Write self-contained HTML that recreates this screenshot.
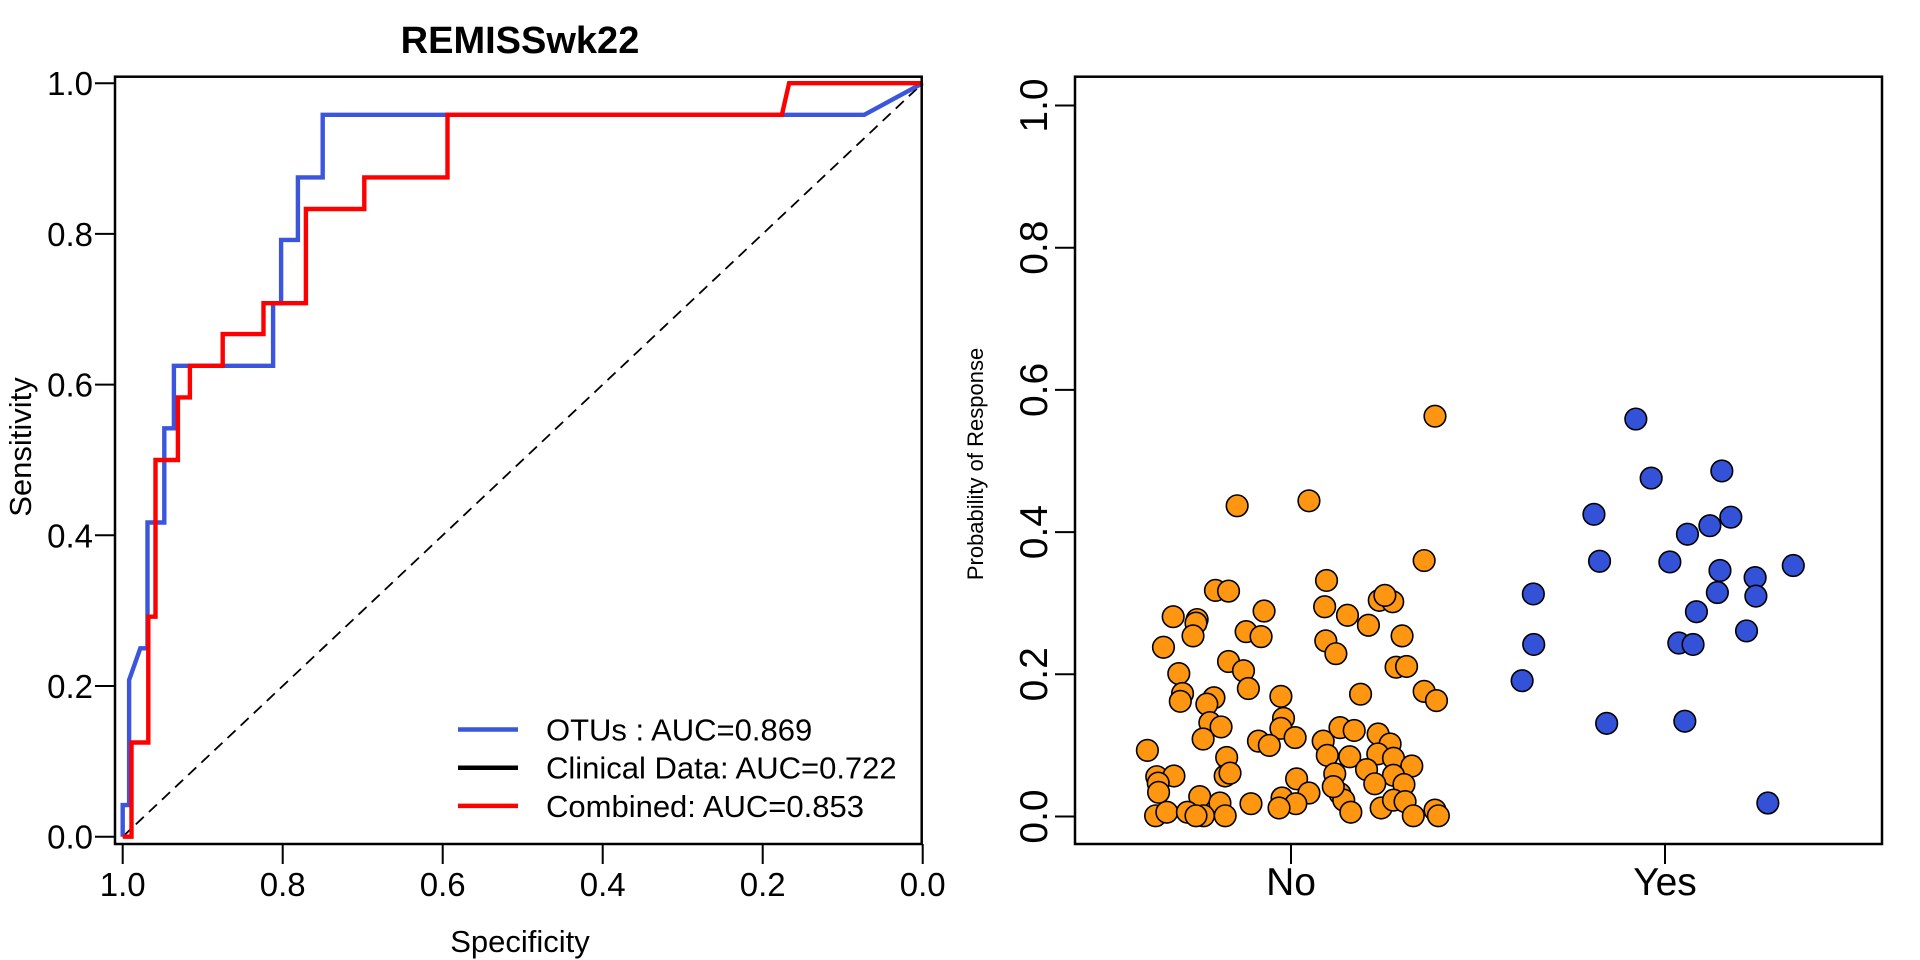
<!DOCTYPE html>
<html><head><meta charset="utf-8">
<style>
html,body{margin:0;padding:0;background:#fff;}
svg{display:block;font-family:"Liberation Sans",Arial,sans-serif;}
</style></head>
<body>
<svg id="chart" width="1920" height="960" viewBox="0 0 1920 960" xmlns="http://www.w3.org/2000/svg">
  <g id="roc"></g>
  <g id="scatter"></g>
</svg>
<script>
// ---- ROC data ----
const rocXTicks = [1.0, 0.8, 0.6, 0.4, 0.2, 0.0];
const rocYTicks = [0.0, 0.2, 0.4, 0.6, 0.8, 1.0];
const otusSpec = [1.0,1.0,0.992,0.992,0.978,0.969,0.969,0.948,0.948,0.936,0.936,0.812,0.812,0.802,0.802,0.781,0.781,0.750,0.750,0.073,0.0];
const otusSens = [0.0,0.042,0.042,0.208,0.25,0.25,0.417,0.417,0.542,0.542,0.625,0.625,0.708,0.708,0.792,0.792,0.875,0.875,0.958,0.958,1.0];
const combSpec = [1.0,0.989,0.989,0.968,0.968,0.959,0.959,0.931,0.931,0.916,0.916,0.875,0.875,0.824,0.824,0.771,0.771,0.698,0.698,0.594,0.594,0.176,0.167,0.0];
const combSens = [0.0,0.0,0.125,0.125,0.292,0.292,0.5,0.5,0.583,0.583,0.625,0.625,0.667,0.667,0.708,0.708,0.833,0.833,0.875,0.875,0.958,0.958,1.0,1.0];
const legendLabels = ["OTUs : AUC=0.869","Clinical Data: AUC=0.722","Combined: AUC=0.853"];
const legendColors = ["#3b55dc","#000000","#ff0000"];

// ---- Scatter data ----
const groupNames = ["No","Yes"];
const probYTicks = [0.0,0.2,0.4,0.6,0.8,1.0];
const noJitter = [0.385,-0.144,0.048,0.356,0.095,-0.202,-0.167,-0.072,0.090,0.151,0.207,0.236,0.272,0.251,-0.315,-0.251,-0.254,-0.262,-0.120,-0.080,-0.341,0.297,0.093,0.120,-0.300,-0.167,-0.127,-0.114,-0.027,0.186,0.281,0.309,0.356,0.389,-0.290,-0.296,-0.206,-0.225,-0.020,-0.027,0.011,-0.217,-0.187,-0.235,-0.087,-0.058,-0.384,0.086,0.097,0.131,0.169,0.233,0.265,0.232,0.157,0.274,0.323,0.202,0.274,0.302,0.224,0.117,-0.172,-0.176,-0.163,-0.359,-0.313,-0.355,-0.354,-0.244,-0.190,-0.107,0.015,0.048,-0.024,0.013,-0.032,0.131,0.141,0.160,0.241,0.274,0.305,0.327,0.385,0.394,-0.362,-0.332,-0.277,-0.234,-0.254,-0.176,0.113];
const noValues = [0.563,0.437,0.444,0.360,0.332,0.318,0.317,0.289,0.295,0.283,0.269,0.304,0.302,0.311,0.281,0.277,0.272,0.254,0.260,0.253,0.238,0.254,0.247,0.229,0.201,0.218,0.205,0.180,0.169,0.172,0.210,0.211,0.176,0.163,0.173,0.162,0.167,0.158,0.138,0.124,0.111,0.132,0.126,0.109,0.106,0.100,0.093,0.106,0.086,0.125,0.121,0.116,0.102,0.088,0.084,0.082,0.071,0.066,0.058,0.045,0.046,0.060,0.083,0.057,0.061,0.056,0.057,0.047,0.034,0.028,0.019,0.018,0.053,0.033,0.026,0.018,0.012,0.032,0.023,0.006,0.012,0.023,0.021,0.001,0.009,0.001,0.001,0.006,0.006,0.001,0.001,0.001,0.042];
const yesJitter = [-0.078,-0.037,0.152,-0.190,0.176,0.120,0.060,-0.175,0.013,0.343,0.147,0.241,-0.352,0.140,0.243,0.084,0.218,-0.351,0.037,0.075,-0.382,-0.156,0.053,0.275];
const yesValues = [0.559,0.476,0.486,0.425,0.421,0.409,0.397,0.359,0.358,0.353,0.346,0.336,0.313,0.315,0.310,0.288,0.261,0.242,0.244,0.242,0.191,0.131,0.134,0.019];

const NS = "http://www.w3.org/2000/svg";
function mk(tag, parent, attrs, text){
  const e = document.createElementNS(NS, tag);
  for (const k in attrs) e.setAttribute(k, attrs[k]);
  if (text !== undefined) e.textContent = text;
  parent.appendChild(e);
  return e;
}

// ROC axes
const rx = s => 922.7 - s * 800;
const ry = v => 836.7 - v * 753.5;
const roc = document.getElementById('roc');

let t = mk('text', roc, {x:520, y:53, 'font-size':38, 'font-weight':'bold', 'text-anchor':'middle'}, 'REMISSwk22');



let diag = mk('line', roc, {x1:rx(1), y1:ry(0), x2:rx(0), y2:ry(1), stroke:'#000', 'stroke-width':1.8, 'stroke-dasharray':'11 7'});



function rocLine(specs, sens, color, name){
  const pts = specs.map((s,i)=> rx(s).toFixed(1)+','+ry(sens[i]).toFixed(1)).join(' ');
  const p = mk('polyline', roc, {points:pts, fill:'none', stroke:color, 'stroke-width':4.4, 'stroke-linejoin':'miter'});
  
  
}
rocLine(otusSpec, otusSens, '#3b55dc', 'otus-roc-line');
rocLine(combSpec, combSens, '#ff0000', 'combined-roc-line');

let box = mk('rect', roc, {x:115, y:76.7, width:806.7, height:767.3, fill:'none', stroke:'#000', 'stroke-width':2.5});



rocXTicks.forEach(v=>{
  const l = mk('line', roc, {x1:rx(v), y1:844, x2:rx(v), y2:864, stroke:'#000', 'stroke-width':2});
  
  
  const tx = mk('text', roc, {x:rx(v), y:896, 'font-size':33, 'text-anchor':'middle'}, v.toFixed(1));
  
  
});
rocYTicks.forEach(v=>{
  const l = mk('line', roc, {x1:95, y1:ry(v), x2:115, y2:ry(v), stroke:'#000', 'stroke-width':2});
  
  
  const tx = mk('text', roc, {x:93, y:ry(v)+12, 'font-size':33, 'text-anchor':'end'}, v.toFixed(1));
  
  
});
t = mk('text', roc, {x:520, y:952, 'font-size':31, 'text-anchor':'middle'}, 'Specificity');


t = mk('text', roc, {x:0, y:0, 'font-size':31, 'text-anchor':'middle', transform:'translate(31,447) rotate(-90)'}, 'Sensitivity');



legendLabels.forEach((lab,i)=>{
  const y = 729.5 + i*38.2;
  const g = mk('g', roc, {});
  
  
  mk('line', g, {x1:458, y1:y, x2:518, y2:y, stroke:legendColors[i], 'stroke-width':4.5});
  mk('text', g, {x:546, y:y+11, 'font-size':31}, lab);
});

// Scatter
const sc = document.getElementById('scatter');
const gx = c => 1291 + c * 374;
const gy = v => 816.5 - v * 711;

probYTicks.forEach(v=>{
  const l = mk('line', sc, {x1:1055, y1:gy(v), x2:1075, y2:gy(v), stroke:'#000', 'stroke-width':2});
  
  
  const tx = mk('text', sc, {x:0, y:0, 'font-size':39, 'text-anchor':'middle', transform:'translate(1047,'+gy(v)+') rotate(-90)'}, v.toFixed(1));
  
  
});
groupNames.forEach((n,i)=>{
  const l = mk('line', sc, {x1:gx(i), y1:844, x2:gx(i), y2:864, stroke:'#000', 'stroke-width':2});
  
  
  const tx = mk('text', sc, {x:gx(i), y:895, 'font-size':39, 'text-anchor':'middle'}, n);
  
  
});
t = mk('text', sc, {x:0, y:0, 'font-size':22, 'text-anchor':'middle', transform:'translate(983,464) rotate(-90)'}, 'Probability of Response');



noValues.forEach((v,i)=>{
  const c = mk('circle', sc, {cx:gx(0+noJitter[i]), cy:gy(v), r:10.8, fill:'#ff9612', stroke:'#000', 'stroke-width':1.6});
  
  
});
yesValues.forEach((v,i)=>{
  const c = mk('circle', sc, {cx:gx(1+yesJitter[i]), cy:gy(v), r:10.8, fill:'#3352d8', stroke:'#000', 'stroke-width':1.6});
  
  
});
box = mk('rect', sc, {x:1075, y:76.7, width:807, height:767.3, fill:'none', stroke:'#000', 'stroke-width':2.5});


</script>
</body></html>
